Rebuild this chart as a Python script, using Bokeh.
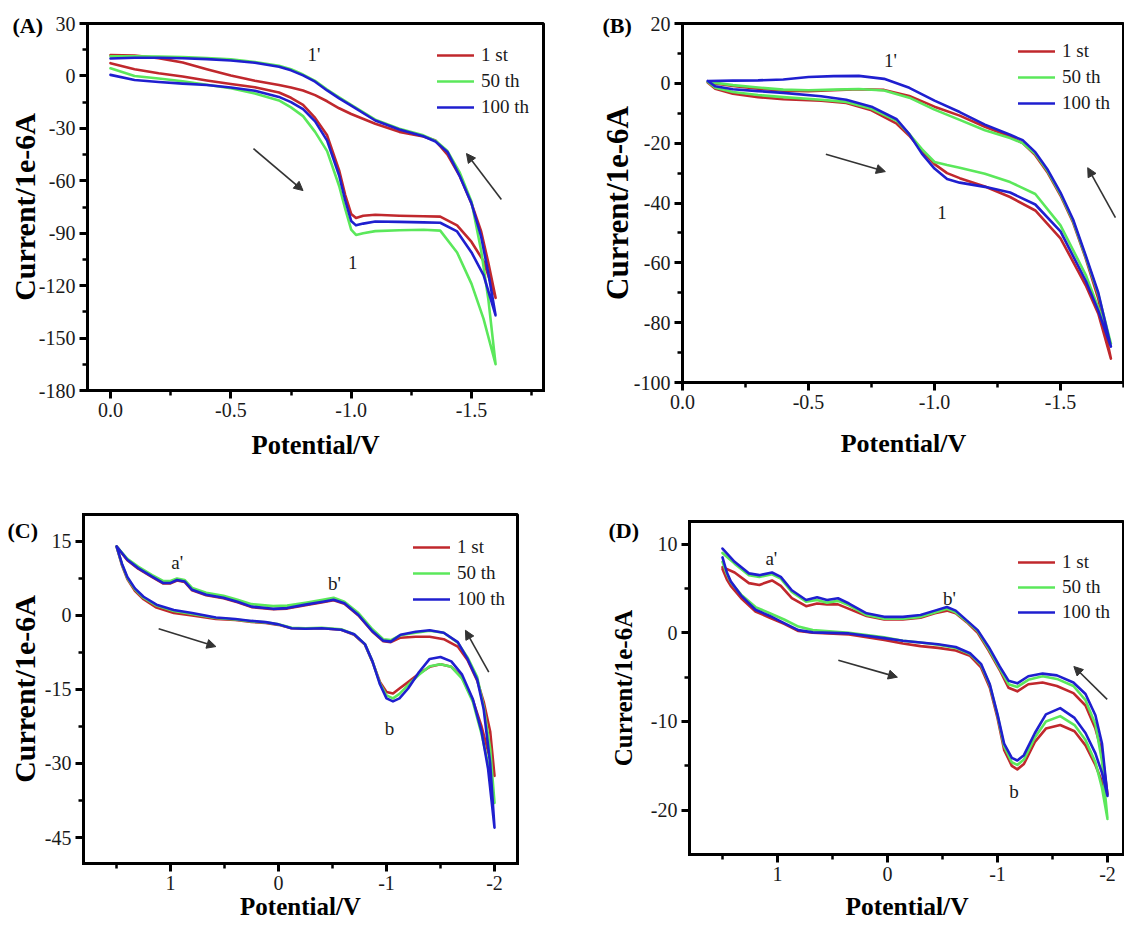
import math
from bokeh.plotting import figure
from bokeh.models import (Range1d, FixedTicker, Legend, LegendItem, Label,
                          Arrow, NormalHead, NumeralTickFormatter)
from bokeh.layouts import row, column
from bokeh.embed import file_html
from bokeh.resources import INLINE

CYCLE_LABELS = ["1 st", "50 th", "100 th"]
CYCLE_COLORS = ["#c0282d", "#5be85b", "#1f1fcf"]

# ---------------- Panel A ----------------
A_E_fwd = [0.0, -0.1, -0.2, -0.3, -0.4, -0.5, -0.6, -0.7, -0.75, -0.8, -0.85, -0.9, -0.95, -0.975,
           -1.0, -1.02, -1.05, -1.1, -1.2, -1.3, -1.37, -1.44, -1.5, -1.55, -1.6]
A_1st_fwd = [7.3, 3.8, 1.5, -0.3, -2.6, -4.6, -6.5, -9.5, -12.5, -16.5, -24, -34, -54, -68,
             -79, -81.3, -80, -79.4, -80, -80.3, -80.5, -85.5, -95, -106, -127]
A_50th_fwd = [4.4, 0.0, -1.5, -3.0, -5.0, -7.1, -10, -14, -18, -23, -32, -43, -63, -76,
              -88, -91, -90, -88.8, -88.3, -88, -88.5, -101, -119, -139, -165]
A_100th_fwd = [0.6, -2.3, -3.5, -4.4, -5.2, -6.6, -8.5, -12, -15, -19, -26, -37, -57, -71,
               -83, -85.5, -84.5, -83.3, -83.5, -83.8, -84, -89, -101, -114, -137]
A_E_rev = [-1.6, -1.57, -1.54, -1.5, -1.45, -1.4, -1.35, -1.3, -1.2, -1.1, -1.0, -0.95, -0.9,
           -0.85, -0.8, -0.75, -0.7, -0.6, -0.5, -0.4, -0.3, -0.2, -0.1, 0.0]
A_1st_rev = [-127, -107, -89, -73, -57, -45, -37, -34.7, -32, -27.4, -21.8, -18.5, -14.5,
             -11, -8.3, -6.6, -5.2, -2.8, 0.2, 3.8, 7.7, 10.2, 11.7, 12]
A_50th_rev = [-165, -128, -100, -72, -55, -43, -37, -34, -30.2, -25, -16.5, -12.2, -7.8,
              -2.8, 0.8, 3.8, 5.8, 8, 9.5, 10.3, 10.8, 11.1, 11.3, 11.2]
A_100th_rev = [-137, -113, -92, -73, -57, -43.5, -37.5, -34.5, -30.7, -25.5, -17, -12.8, -8.3,
               -3.3, 0.3, 3.2, 5.3, 7.5, 8.8, 9.6, 10.1, 10.4, 10.4, 10]
A_X_TICKS = [0.0, -0.5, -1.0, -1.5]
A_X_MINOR = [-0.25, -0.75, -1.25, -1.75]
A_Y_TICKS = [30, 0, -30, -60, -90, -120, -150, -180]
A_Y_MINOR = [15, -15, -45, -75, -105, -135, -165]
A_NOTES = [("1'", -0.845, 12.0), ("1", -1.007, -107.0)]
A_ARROWS = [(-0.594, -41.6, -0.80, -65.6), (-1.624, -70.7, -1.479, -44.4)]

# ---------------- Panel B ----------------
B_E_fwd = [-0.1, -0.13, -0.2, -0.3, -0.4, -0.55, -0.65, -0.75, -0.85, -0.9, -0.95, -1.0, -1.05,
           -1.1, -1.2, -1.3, -1.4, -1.5, -1.6, -1.65, -1.7]
B_1st_fwd = [0.3, -1.8, -3.5, -4.6, -5.3, -5.8, -6.6, -9, -13.5, -17.5, -22.5, -27, -30,
             -31.7, -34.5, -38, -42.5, -51.8, -67.5, -77, -92]
B_50th_fwd = [0.5, -1.5, -2.9, -3.9, -4.6, -5.5, -6.2, -8.5, -12.5, -17, -22, -26.3, -27.3,
              -28.2, -30.2, -33, -37, -47.5, -64, -75, -87]
B_100th_fwd = [0.8, -1.0, -2.0, -2.6, -3.2, -4.3, -5.5, -7.8, -12, -17, -23.5, -28.5, -32,
               -33.2, -34.6, -36.5, -40.5, -49.5, -66, -76, -88]
B_E_rev = [-1.7, -1.65, -1.6, -1.55, -1.5, -1.45, -1.4, -1.35, -1.3, -1.2, -1.1, -1.0, -0.9,
           -0.8, -0.7, -0.6, -0.5, -0.4, -0.3, -0.2, -0.1]
B_1st_rev = [-92, -72, -58.5, -46.5, -37.5, -30, -24, -20, -17.8, -14.5, -10.8, -7.8, -4.2,
             -2.2, -2, -2.3, -2.6, -2.5, -1.8, -0.9, 0.3]
B_50th_rev = [-87, -70.5, -58, -46, -37, -29.5, -23.5, -20, -18.3, -15.7, -12.2, -8.8, -4.8,
              -2.4, -1.9, -2.1, -2.3, -2.1, -1.4, -0.6, 0.5]
B_100th_rev = [-88, -70, -57.5, -45.5, -36.5, -29, -23, -19, -17.2, -13.8, -9.6, -5.8, -1.5,
               1.5, 2.5, 2.4, 2.1, 1.3, 1.0, 0.9, 0.8]
B_X_TICKS = [0.0, -0.5, -1.0, -1.5]
B_X_MINOR = [-0.25, -0.75, -1.25, -1.75]
B_Y_TICKS = [20, 0, -20, -40, -60, -80, -100]
B_Y_MINOR = [10, -10, -30, -50, -70, -90]
B_NOTES = [("1'", -0.825, 7.5), ("1", -1.03, -43.2)]
B_ARROWS = [(-0.569, -23.7, -0.805, -29.5), (-1.718, -44.9, -1.608, -28.2)]

# ---------------- Panel C ----------------
C_E_fwd = [1.5, 1.45, 1.4, 1.33, 1.25, 1.13, 0.97, 0.8, 0.58, 0.4, 0.25, 0.12, 0.0, -0.12, -0.25,
           -0.4, -0.58, -0.7, -0.8, -0.87, -0.94, -1.0, -1.06, -1.12, -1.2, -1.3, -1.4, -1.5,
           -1.6, -1.7, -1.8, -1.88, -1.94, -2.0]
C_1st_fwd = [14, 10.2, 7.4, 5.0, 3.3, 1.6, 0.5, 0.0, -0.7, -0.9, -1.3, -1.5, -1.9, -2.6, -2.7,
             -2.6, -2.9, -3.9, -5.9, -9.4, -13.5, -15.5, -15.8, -14.8, -13.5, -11.8, -10.4, -9.9,
             -10.4, -12.6, -17.2, -22.5, -27.5, -32.5]
C_50th_fwd = [14, 10.4, 7.6, 5.3, 3.6, 2.0, 0.9, 0.3, -0.5, -0.8, -1.2, -1.4, -1.8, -2.5, -2.6,
              -2.5, -2.8, -3.8, -5.8, -9.3, -13.8, -16.2, -16.8, -15.9, -14.1, -12.0, -10.3, -9.9,
              -10.4, -12.8, -17.5, -24, -30, -38]
C_100th_fwd = [14, 10.5, 7.8, 5.5, 3.8, 2.2, 1.1, 0.5, -0.4, -0.7, -1.1, -1.35, -1.8, -2.6, -2.7,
               -2.6, -2.9, -3.8, -5.8, -9.3, -14, -16.8, -17.4, -16.8, -14.8, -11.5, -8.8, -8.4,
               -9.3, -12.0, -17.0, -23.5, -31, -43]
C_E_rev = [-2.0, -1.96, -1.9, -1.84, -1.75, -1.66, -1.53, -1.4, -1.27, -1.13, -1.04, -0.97, -0.87,
           -0.74, -0.61, -0.51, -0.41, -0.25, -0.08, 0.05, 0.25, 0.38, 0.51, 0.67, 0.8, 0.87,
           0.94, 1.0, 1.07, 1.17, 1.3, 1.4, 1.5]
C_1st_rev = [-32.5, -23.5, -17.5, -13.2, -9.0, -6.3, -4.8, -4.3, -4.3, -4.5, -5.4, -5.2, -3.3,
             0.0, 2.4, 3.1, 2.7, 2.1, 1.4, 1.25, 1.7, 2.7, 3.5, 4.1, 5.1, 6.8, 7.1, 6.5, 6.5,
             7.8, 9.5, 11.2, 14]
C_50th_rev = [-38, -27, -18.5, -12.5, -8.5, -5.5, -3.5, -3.1, -3.5, -4.0, -5.0, -4.8, -2.8,
              0.5, 2.8, 3.6, 3.2, 2.6, 2.0, 1.9, 2.3, 3.2, 4.0, 4.6, 5.6, 7.2, 7.5, 7.0, 7.0,
              8.2, 9.9, 11.5, 14]
C_100th_rev = [-43, -30, -19, -13, -8.8, -5.4, -3.5, -3.0, -3.3, -3.9, -5.3, -5.1, -3.2,
               0.1, 2.5, 3.2, 2.8, 2.2, 1.5, 1.35, 1.8, 2.8, 3.6, 4.2, 5.2, 6.9, 7.2, 6.6, 6.6,
               7.9, 9.6, 11.3, 14]
C_X_TICKS = [1, 0, -1, -2]
C_X_MINOR = [1.5, 0.5, -0.5, -1.5]
C_Y_TICKS = [15, 0, -15, -30, -45]
C_Y_MINOR = [7.5, -7.5, -22.5, -37.5]
C_NOTES = [("a'", 0.939, 10.8), ("b'", -0.518, 6.4), ("b", -1.028, -23.0)]
C_ARROWS = [(1.11, -2.7, 0.58, -6.3), (-1.947, -11.5, -1.731, -3.0)]

# ---------------- Panel D ----------------
D_E_fwd = [1.5, 1.46, 1.425, 1.33, 1.2, 1.07, 0.94, 0.81, 0.68, 0.35, 0.03, -0.14, -0.3, -0.46,
           -0.62, -0.75, -0.85, -0.93, -1.0, -1.06, -1.13, -1.18, -1.24, -1.34, -1.44, -1.57,
           -1.7, -1.8, -1.89, -1.95, -2.0]
D_1st_fwd = [7.2, 6.0, 5.3, 3.9, 2.4, 1.7, 1.0, 0.2, 0.0, -0.2, -0.8, -1.2, -1.5, -1.7, -2.0,
             -2.6, -3.9, -6.2, -9.6, -13.2, -15.0, -15.4, -14.8, -12.3, -10.8, -10.4, -11.1,
             -12.7, -14.9, -16.8, -18.2]
D_50th_fwd = [8.0, 6.6, 5.7, 4.3, 2.9, 2.2, 1.5, 0.7, 0.3, 0.0, -0.5, -0.9, -1.1, -1.35, -1.7,
              -2.4, -3.6, -5.9, -9.3, -12.8, -14.6, -14.9, -14.3, -11.8, -10.0, -9.4, -10.4,
              -12.1, -14.6, -17.5, -21]
D_100th_fwd = [8.5, 6.8, 5.8, 4.2, 2.6, 1.9, 1.1, 0.3, 0.05, -0.07, -0.6, -0.9, -1.1, -1.3, -1.6,
               -2.3, -3.5, -5.8, -9.2, -12.5, -14.1, -14.4, -13.8, -11.3, -9.2, -8.5, -9.6,
               -11.3, -13.6, -15.8, -18.4]
D_E_rev = [-2.0, -1.95, -1.89, -1.8, -1.69, -1.54, -1.41, -1.28, -1.18, -1.1, -1.02, -0.92, -0.82,
           -0.72, -0.62, -0.54, -0.43, -0.3, -0.14, 0.03, 0.19, 0.35, 0.45, 0.55, 0.64, 0.74,
           0.87, 0.97, 1.05, 1.165, 1.26, 1.39, 1.5]
D_1st_rev = [-18.2, -13.5, -10.8, -8.2, -6.8, -6.0, -5.6, -5.8, -6.6, -6.2, -4.2, -2.0, 0.0,
             1.2, 2.2, 2.5, 2.2, 1.7, 1.5, 1.5, 1.9, 2.7, 3.2, 3.2, 3.3, 3.0, 3.9, 5.3, 5.9,
             5.4, 5.6, 6.8, 7.4]
D_50th_rev = [-21, -14.5, -10.3, -7.6, -6.0, -5.2, -4.9, -5.3, -6.1, -5.8, -4.0, -1.8, 0.2,
              1.3, 2.3, 2.7, 2.3, 1.8, 1.6, 1.6, 2.0, 3.1, 3.6, 3.4, 3.7, 3.5, 4.6, 6.1, 6.6,
              6.3, 6.5, 7.8, 9.0]
D_100th_rev = [-18.4, -12.5, -9.3, -6.9, -5.6, -4.8, -4.6, -4.9, -5.7, -5.4, -3.8, -1.6, 0.3,
               1.4, 2.5, 2.9, 2.5, 2.0, 1.8, 1.8, 2.2, 3.3, 3.9, 3.7, 4.0, 3.7, 4.8, 6.3, 6.8,
               6.5, 6.7, 8.0, 9.5]
D_X_TICKS = [1, 0, -1, -2]
D_X_MINOR = [1.5, 0.5, -0.5, -1.5]
D_Y_TICKS = [10, 0, -10, -20]
D_Y_MINOR = [5, -5, -15]
D_NOTES = [("a'", 1.056, 8.4), ("b'", -0.563, 3.9), ("b", -1.149, -17.9)]
D_ARROWS = [(0.447, -3.1, -0.09, -5.0), (-1.997, -7.5, -1.694, -3.8)]

SERIF = "Liberation Serif"
INK = "#1a1a1a"


def make_panel(cfg):
    p = figure(width=cfg["w"], height=cfg["h"],
               x_range=Range1d(*cfg["xr"]), y_range=Range1d(*cfg["yr"]),
               output_backend="svg", toolbar_location=None,
               min_border_left=cfg["mb"][0], min_border_right=cfg["mb"][1],
               min_border_top=cfg["mb"][2], min_border_bottom=cfg["mb"][3])
    p.outline_line_color = "black"
    p.outline_line_width = 3
    p.outline_line_alpha = 1.0
    p.xgrid.visible = False
    p.ygrid.visible = False
    p.background_fill_color = "white"
    p.border_fill_color = "white"

    # panel tag as the plot title, pulled left of the y axis
    p.title.text = cfg["tag_text"]
    p.title.text_font = SERIF
    p.title.text_font_size = "22px"
    p.title.text_font_style = "bold"
    p.title.text_color = "black"
    p.title.align = "left"
    p.title.vertical_align = "bottom"
    p.title.offset = cfg["tag"][0]
    p.title.standoff = cfg["tag"][1]

    axes = [(p.xaxis[0], cfg["xt"], cfg["xm"], "Potential/V", cfg["xls"], cfg["xfs"]),
            (p.yaxis[0], cfg["yt"], cfg["ym"], "Current/1e-6A", cfg["yls"], cfg["yfs"])]
    for ax, ticks, minor, title, stand, fs in axes:
        ax.ticker = FixedTicker(ticks=ticks, minor_ticks=minor)
        ax.axis_line_width = 3
        ax.axis_line_cap = "square"
        ax.axis_line_color = "black"
        ax.major_tick_line_width = 3
        ax.major_tick_line_color = "black"
        ax.minor_tick_line_width = 2.5
        ax.minor_tick_line_color = "black"
        ax.major_tick_in = 0
        ax.major_tick_out = 8
        ax.minor_tick_in = 0
        ax.minor_tick_out = 5
        ax.major_label_text_font = SERIF
        ax.major_label_text_font_size = "20px"
        ax.major_label_text_color = INK
        ax.major_label_standoff = 4
        ax.axis_label = title
        ax.axis_label_text_font = SERIF
        ax.axis_label_text_font_size = fs
        ax.axis_label_text_font_style = "bold"
        ax.axis_label_text_color = "black"
        ax.axis_label_standoff = stand
    p.xaxis[0].formatter = NumeralTickFormatter(format=cfg["xfmt"])
    p.yaxis[0].formatter = NumeralTickFormatter(format="0")

    rs = []
    for (fwd, rev), color in zip(cfg["curves"], CYCLE_COLORS):
        r = p.line(cfg["E_fwd"] + cfg["E_rev"], fwd + rev, line_color=color, line_width=2.6,
                   line_join="round", line_cap="round")
        rs.append(r)

    leg = Legend(items=[LegendItem(label=l, renderers=[r]) for l, r in zip(CYCLE_LABELS, rs)],
                 location=cfg["leg"], orientation="vertical",
                 glyph_width=37, glyph_height=22, label_height=22, label_standoff=7,
                 spacing=cfg["leg_sp"], padding=0, margin=0,
                 border_line_alpha=0, background_fill_alpha=0,
                 label_text_font=SERIF, label_text_font_size="19px", label_text_color=INK)
    p.add_layout(leg)

    for (x0, y0, x1, y1) in cfg["arrows"]:
        p.add_layout(Arrow(end=NormalHead(size=9, line_color="#333333", fill_color="#333333",
                                          line_width=1),
                           x_start=x0, y_start=y0, x_end=x1, y_end=y1,
                           line_width=1.6, line_color="#333333"))
    for (t, x, y) in cfg["notes"]:
        p.add_layout(Label(x=x, y=y, text=t, text_font=SERIF, text_font_size="19px",
                           text_color=INK, text_align="center", text_baseline="middle"))
    return p


pA = make_panel(dict(
    w=590, h=466, xr=(0.0955, -1.799), yr=(-180, 30), mb=(87, 47, 23, 76),
    xt=A_X_TICKS, xm=A_X_MINOR, yt=A_Y_TICKS, ym=A_Y_MINOR, xfmt="0.0",
    E_fwd=A_E_fwd, E_rev=A_E_rev,
    curves=[(A_1st_fwd, A_1st_rev), (A_50th_fwd, A_50th_rev), (A_100th_fwd, A_100th_rev)],
    leg=(350, 272), leg_sp=4, arrows=A_ARROWS, notes=A_NOTES,
    tag_text="(A)", tag=(-75, -28), xls=10, yls=-5, xfs="26.5px", yfs="30px"))

pB = make_panel(dict(
    w=534, h=466, xr=(0.0, -1.754), yr=(-100, 20), mb=(92, 0, 23, 84),
    xt=B_X_TICKS, xm=B_X_MINOR, yt=B_Y_TICKS, ym=B_Y_MINOR, xfmt="0.0",
    E_fwd=B_E_fwd, E_rev=B_E_rev,
    curves=[(B_1st_fwd, B_1st_rev), (B_50th_fwd, B_50th_rev), (B_100th_fwd, B_100th_rev)],
    leg=(336, 268), leg_sp=4, arrows=B_ARROWS, notes=B_NOTES,
    tag_text="(B)", tag=(-80, -28), xls=17, yls=-4, xfs="26px", yfs="31px"))

pC = make_panel(dict(
    w=590, h=457, xr=(1.806, -2.213), yr=(-50.27, 20.47), mb=(83, 73, 48, 60),
    xt=C_X_TICKS, xm=C_X_MINOR, yt=C_Y_TICKS, ym=C_Y_MINOR, xfmt="0",
    E_fwd=C_E_fwd, E_rev=C_E_rev,
    curves=[(C_1st_fwd, C_1st_rev), (C_50th_fwd, C_50th_rev), (C_100th_fwd, C_100th_rev)],
    leg=(330, 253), leg_sp=4, arrows=C_ARROWS, notes=C_NOTES,
    tag_text="(C)", tag=(-76, -57), xls=0, yls=1, xfs="25px", yfs="30px"))

pD = make_panel(dict(
    w=534, h=457, xr=(1.8, -2.1545), yr=(-25, 12.55), mb=(99, 0, 55, 68),
    xt=D_X_TICKS, xm=D_X_MINOR, yt=D_Y_TICKS, ym=D_Y_MINOR, xfmt="0",
    E_fwd=D_E_fwd, E_rev=D_E_rev,
    curves=[(D_1st_fwd, D_1st_rev), (D_50th_fwd, D_50th_rev), (D_100th_fwd, D_100th_rev)],
    leg=(329, 231), leg_sp=3, arrows=D_ARROWS, notes=D_NOTES,
    tag_text="(D)", tag=(-81, -43), xls=8, yls=11, xfs="25.5px", yfs="25px"))

layout = column(row(column(pA), column(pB)), row(column(pC), column(pD)))
open("out.html", "w").write(file_html(layout, INLINE, title="CV cycles"))
